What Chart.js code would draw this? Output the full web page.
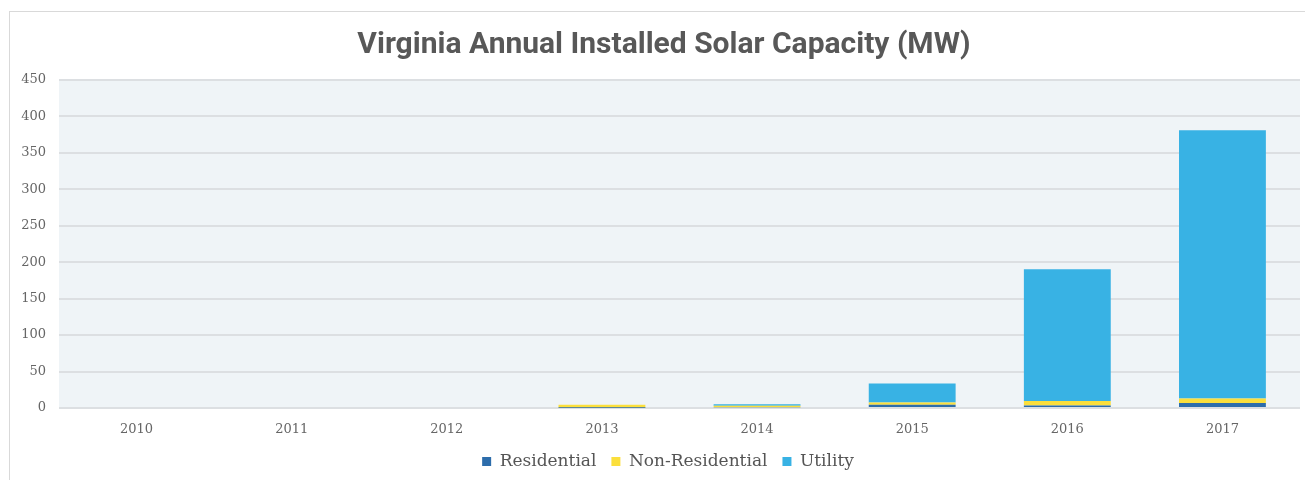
<!DOCTYPE html>
<html>
<head>
<meta charset="utf-8">
<script src="https://cdn.jsdelivr.net/npm/chart.js@4/dist/chart.umd.min.js"></script>
<style>
  html, body { margin: 0; padding: 0; background: #fff; }
  #frame { position: absolute; left: 9px; top: 11px; width: 1400px; height: 600px;
           border-top: 1px solid #d9d9d9; border-left: 1px solid #d9d9d9; }
  #wrap { position: absolute; left: 0; top: 0; width: 1305px; height: 480px; }
</style>
</head>
<body>
<div id="frame"></div>
<div id="wrap"><canvas id="chart"></canvas></div>
<script>
// данные (MW)
const years = ['2010', '2011', '2012', '2013', '2014', '2015', '2016', '2017'];
const residential = [0, 0, 0, 0.5, 1, 4.5, 3.5, 7];
const nonResidential = [0, 0, 0, 4, 2, 3, 6, 6];
const utility = [0, 0, 0, 0, 2, 26, 181, 368];
const yTicks = [0, 50, 100, 150, 200, 250, 300, 350, 400, 450];

// фон области графика
const plotBg = {
  id: 'plotBg',
  beforeDraw(chart) {
    const { ctx, chartArea: a } = chart;
    ctx.save();
    ctx.fillStyle = '#eff4f7';
    ctx.fillRect(a.left, a.top, a.right - a.left, a.bottom - a.top);
    ctx.restore();
  }
};

// в оригинале заголовок и легенда чуть смещены вправо
const shiftBlocks = {
  id: 'shiftBlocks',
  afterLayout(chart) {
    if (chart.titleBlock) chart.titleBlock.left = 28;
    if (chart.legend) chart.legend.left = 36;
  }
};

const tickFont = { family: '"DejaVu Serif", serif', size: 13 };

new Chart(document.getElementById('chart'), {
  type: 'bar',
  data: {
    labels: years,
    datasets: [
      { label: 'Residential', data: residential, backgroundColor: '#2d6dab' },
      { label: 'Non-Residential', data: nonResidential, backgroundColor: '#fbdf3c' },
      { label: 'Utility', data: utility, backgroundColor: '#38b2e4' }
    ]
  },
  options: {
    responsive: true,
    maintainAspectRatio: false,
    animation: false,
    layout: { padding: { left: 0, right: 5, top: 0, bottom: 0 } },
    datasets: { bar: { categoryPercentage: 1, barPercentage: 0.56, borderWidth: 0 } },
    plugins: {
      title: {
        display: true,
        text: 'Virginia Annual Installed Solar Capacity (MW)',
        color: '#585858',
        font: { family: 'Roboto', size: 30, weight: 'bold' },
        padding: { top: 27, bottom: 17 }
      },
      legend: {
        position: 'bottom',
        labels: {
          boxWidth: 9,
          boxHeight: 9,
          padding: 15,
          color: '#555',
          font: { family: '"DejaVu Serif", serif', size: 17 }
        }
      },
      tooltip: { enabled: false }
    },
    scales: {
      x: {
        stacked: true,
        afterFit(scale) { scale.height = 30; },
        grid: { display: false, drawTicks: false },
        border: { display: false },
        ticks: { color: '#666', font: tickFont, padding: 14 }
      },
      y: {
        stacked: true,
        min: 0,
        max: 450,
        afterFit(scale) { scale.width = 59; },
        afterBuildTicks(scale) { scale.ticks = yTicks.map(v => ({ value: v })); },
        grid: { color: '#dcdfe2', lineWidth: 2, drawTicks: false },
        border: { display: false },
        ticks: { color: '#666', font: tickFont, padding: 13 }
      }
    }
  },
  plugins: [plotBg, shiftBlocks]
});
</script>
</body>
</html>
